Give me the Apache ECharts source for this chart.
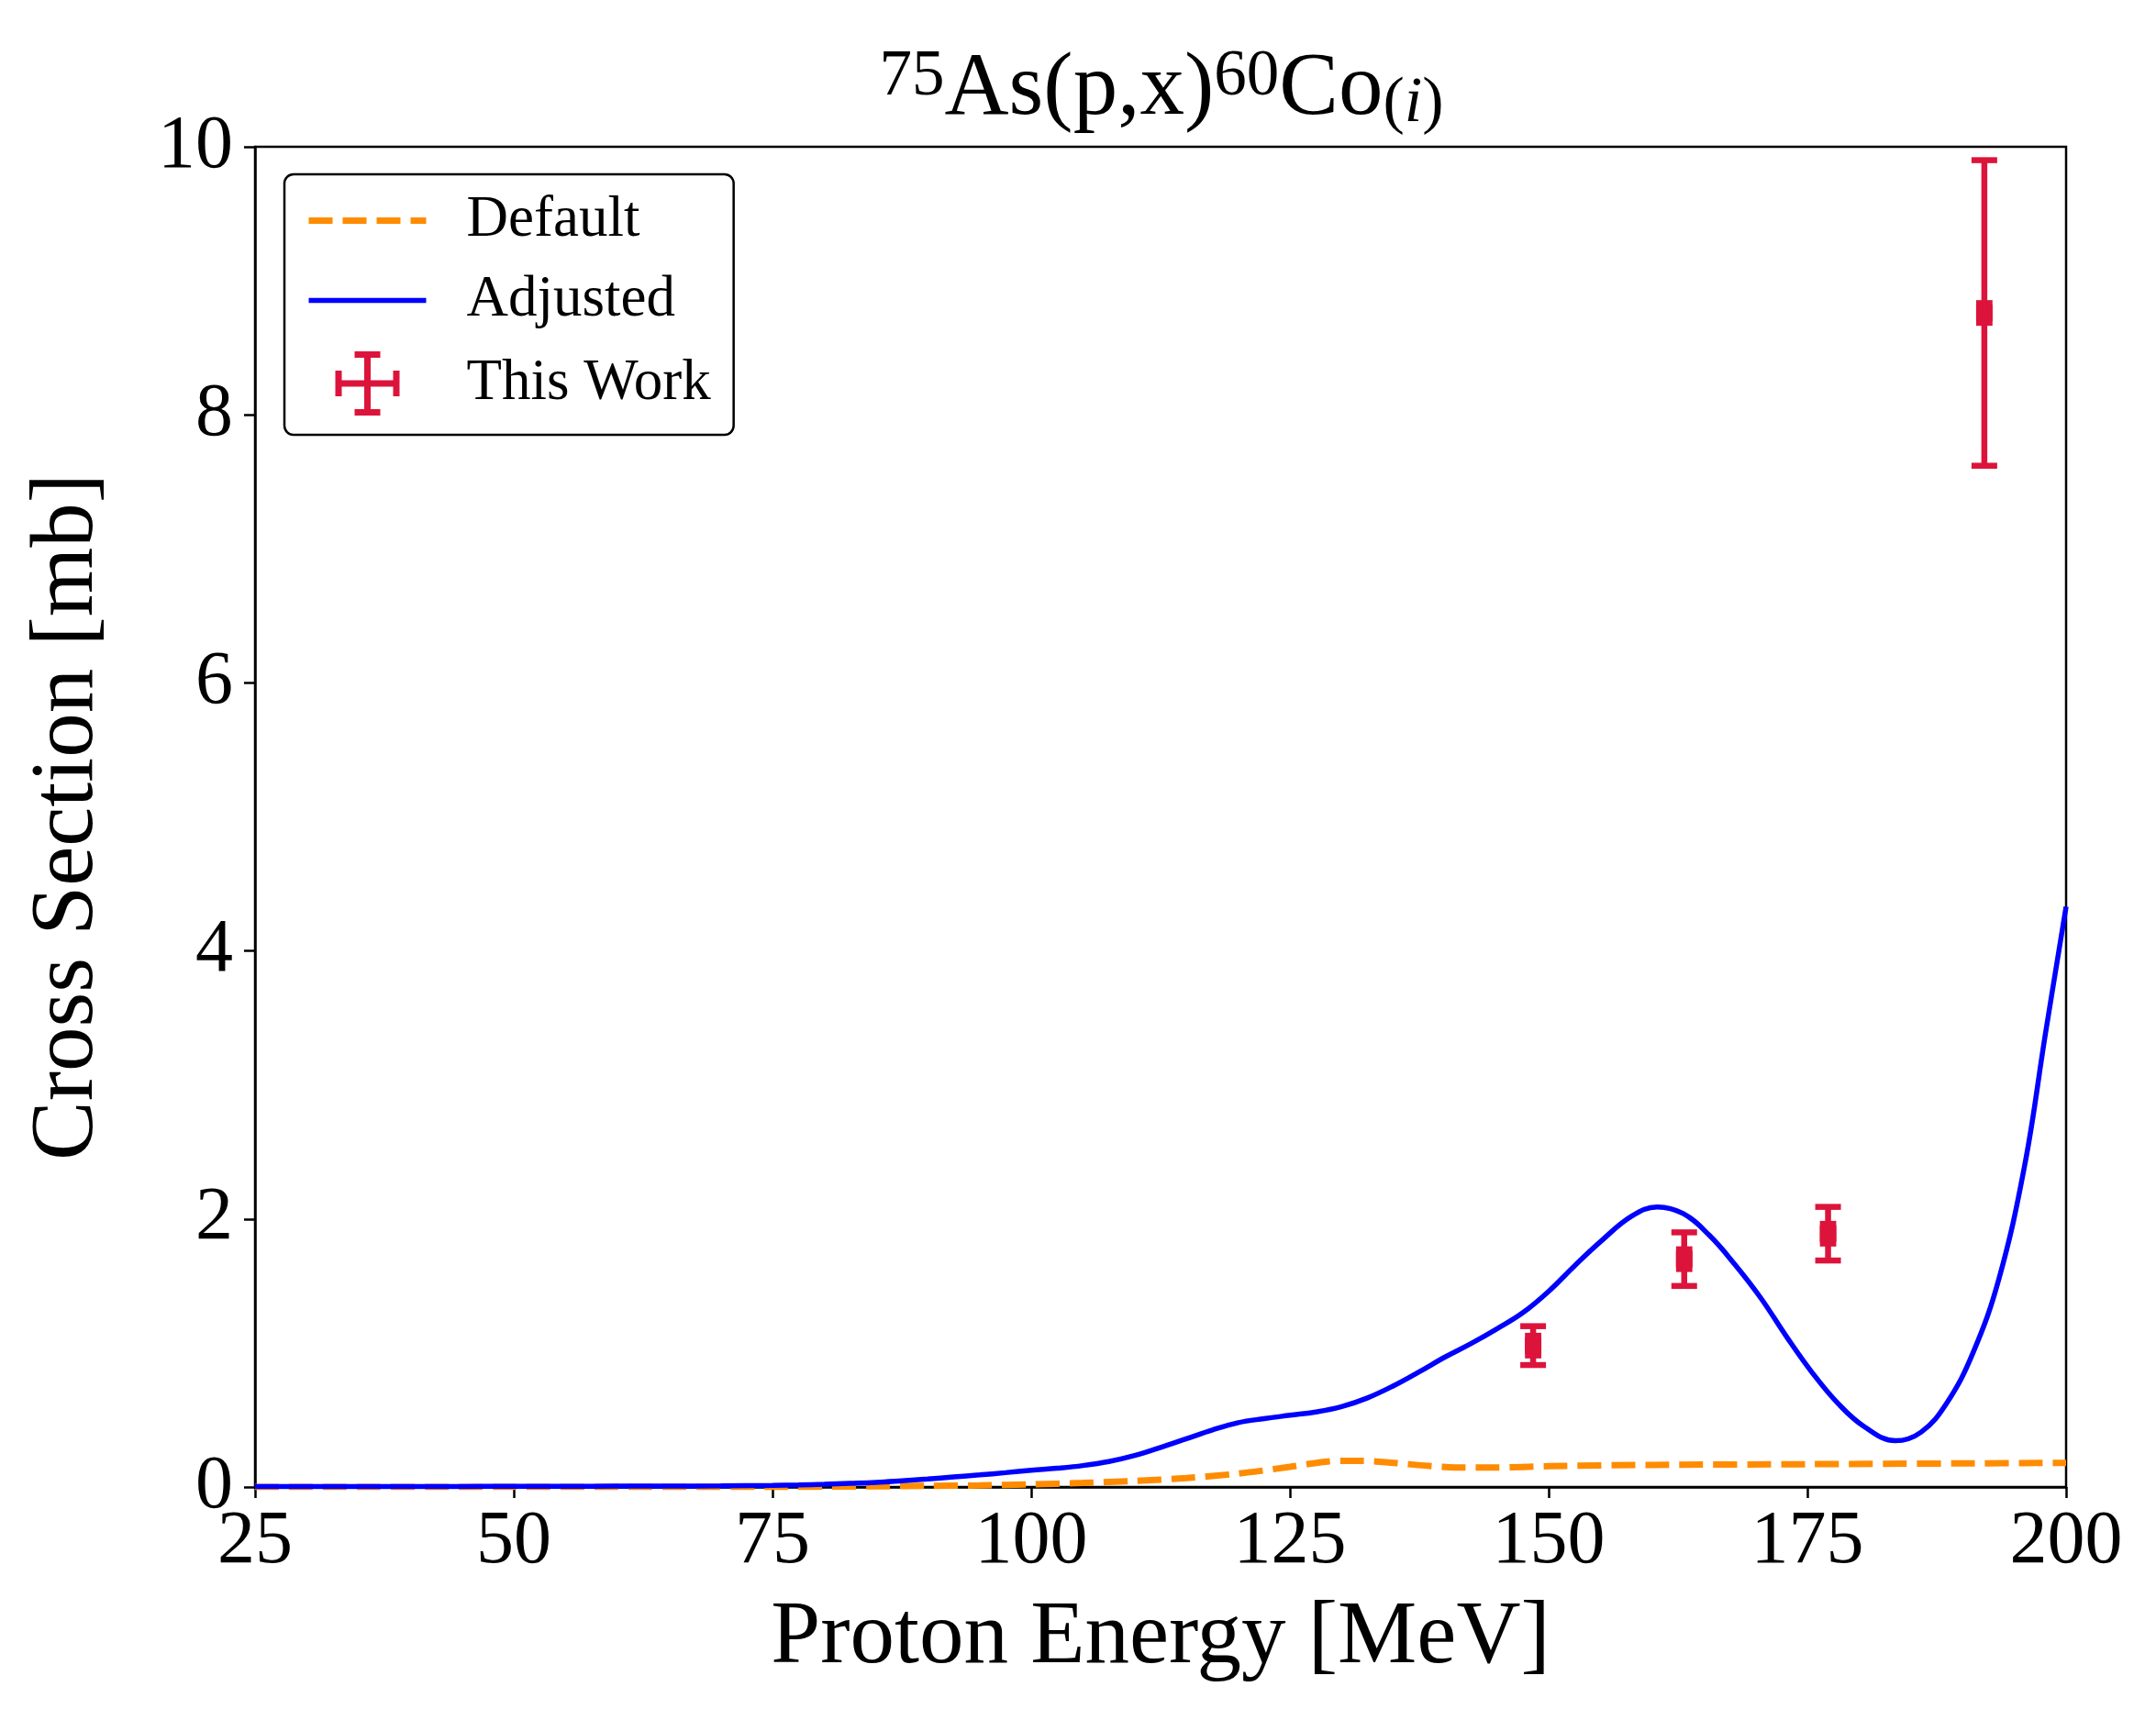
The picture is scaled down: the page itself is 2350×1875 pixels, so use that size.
<!DOCTYPE html>
<html>
<head>
<meta charset="utf-8">
<title>75As(p,x)60Co cross section</title>
<script src="https://cdn.jsdelivr.net/npm/echarts@6/dist/echarts.min.js"></script>
<style>
  html, body { margin: 0; padding: 0; background: #ffffff; }
  #chart { width: 2350px; height: 1875px; }
</style>
</head>
<body>
<div id="chart"></div>
<script>
// Default (orange dashed) model curve
const defaultEnergy = [25, 50, 75, 80, 85, 90, 95, 100, 105, 110, 115, 120, 125, 128, 130, 132, 135, 138, 141, 145, 150, 160, 175, 200];
const defaultXS     = [0, 0, 0, 0.002, 0.005, 0.008, 0.012, 0.02, 0.03, 0.045, 0.067, 0.1, 0.15, 0.185, 0.195, 0.195, 0.18, 0.16, 0.146, 0.145, 0.155, 0.165, 0.17, 0.18];

// Adjusted (blue) model curve
const adjustedEnergy = [25, 30, 35, 40, 45, 50, 55, 60, 65, 70, 75, 77.5, 80, 82.5, 85, 87.5, 90, 92.5, 95, 97.5, 100, 102.5, 105, 107.5, 110, 112.5, 115, 117.5, 120, 122.5, 125, 127.5, 130, 132.5, 135, 137.5, 140, 142.5, 145, 147.5, 150, 152.5, 155, 158, 160.5, 163, 165.5, 168, 170.5, 173, 175.5, 178, 180.5, 183.5, 186, 188.5, 191, 193.5, 196, 198, 200];
const adjustedXS     = [0.003, 0.003, 0.003, 0.004, 0.004, 0.005, 0.005, 0.006, 0.007, 0.008, 0.012, 0.015, 0.02, 0.027, 0.035, 0.047, 0.06, 0.075, 0.09, 0.107, 0.125, 0.14, 0.16, 0.19, 0.235, 0.295, 0.36, 0.425, 0.48, 0.51, 0.535, 0.56, 0.6, 0.665, 0.755, 0.86, 0.97, 1.07, 1.18, 1.3, 1.46, 1.65, 1.83, 2.02, 2.09, 2.04, 1.88, 1.66, 1.41, 1.12, 0.85, 0.62, 0.45, 0.345, 0.41, 0.63, 1.0, 1.55, 2.4, 3.38, 4.33];

// This Work measurements
const expEnergy = [148.5, 163.1, 177.0, 192.1];
const expXS     = [1.055, 1.70, 1.89, 8.76];
const expXErr   = [0.5, 0.5, 0.5, 0.5];
const expYErr   = [0.145, 0.20, 0.20, 1.14];

// axis ticks
const xTicks = { min: 25, max: 200, step: 25 };
const yTicks = { min: 0, max: 10, step: 2 };

const FONT = "'Liberation Serif', 'Times New Roman', serif";
const ORANGE = "#FF8C00", BLUE = "#0000FF", CRIMSON = "#DC143C";
const chart = echarts.init(document.getElementById("chart"), null, { renderer: "canvas" });

const pairs = (xs, ys) => xs.map((x, i) => [x, ys[i]]);

// draws one point with x/y error bars and caps
function renderErrorBar(params, api) {
  const x = api.value(0), y = api.value(1), xe = api.value(2), ye = api.value(3);
  const c = api.coord([x, y]);
  const top = api.coord([x, y + ye])[1];
  const bot = api.coord([x, y - ye])[1];
  const left = api.coord([x - xe, y])[0];
  const right = api.coord([x + xe, y])[0];
  const color = api.visual("color");
  const lw = 6.5, cap = 28;
  const rects = [
    [c[0] - lw / 2, top, lw, bot - top],
    [c[0] - cap / 2, top - lw / 2, cap, lw],
    [c[0] - cap / 2, bot - lw / 2, cap, lw],
    [left, c[1] - lw / 2, right - left, lw],
    [left - lw / 2, c[1] - cap / 2, lw, cap],
    [right - lw / 2, c[1] - cap / 2, lw, cap],
    [c[0] - 9, c[1] - 9, 18, 18]
  ];
  return {
    type: "group",
    children: rects.map(r => ({
      type: "rect",
      shape: { x: r[0], y: r[1], width: r[2], height: r[3] },
      style: { fill: color }
    }))
  };
}

const errIcon = "path://M31.5,0h7v70h-7z M21,0h28v7h-28z M21,63h28v7h-28z M0,31.5h70v7h-70z M0,21h7v28h-7z M63,21h7v28h-7z";
const hiddenSymbol = { color: "rgba(0,0,0,0)", borderWidth: 0, opacity: 0 };

chart.setOption({
  animation: false,
  backgroundColor: "#ffffff",
  title: {
    text: "{sup|75}{m|As(p,x)}{sup|60}{m|Co}{sub|(}{subi|i}{sub|)}",
    left: 1266,
    textAlign: "center",
    top: 49,
    padding: 0,
    textStyle: {
      fontFamily: FONT, fontSize: 97, fontWeight: "normal", color: "#000",
      rich: {
        m:    { fontFamily: FONT, fontSize: 97, lineHeight: 100, color: "#000" },
        sup:  { fontFamily: FONT, fontSize: 71, lineHeight: 48, verticalAlign: "top", color: "#000" },
        sub:  { fontFamily: FONT, fontSize: 70, lineHeight: 52, verticalAlign: "bottom", color: "#000" },
        subi: { fontFamily: FONT, fontSize: 70, lineHeight: 52, verticalAlign: "bottom", fontStyle: "italic", color: "#000" }
      }
    }
  },
  legend: {
    orient: "vertical",
    left: 310,
    top: 190,
    padding: [19, 25, 21, 23],
    itemGap: 24,
    itemWidth: 128,
    itemHeight: 70,
    selectedMode: false,
    backgroundColor: "#ffffff",
    borderColor: "#000000",
    borderWidth: 2.5,
    borderRadius: 10,
    textStyle: { fontFamily: FONT, fontSize: 63, color: "#000", padding: [0, 0, 0, 39] },
    data: [
      { name: "Default", itemStyle: hiddenSymbol, lineStyle: { color: ORANGE, width: 7, type: [26, 11] } },
      { name: "Adjusted", itemStyle: hiddenSymbol, lineStyle: { color: BLUE, width: 5.5, type: "solid" } },
      { name: "This Work", icon: errIcon }
    ]
  },
  grid: {
    left: 278, right: 98, top: 160, bottom: 254,
    show: true, borderColor: "#000", borderWidth: 2.5, backgroundColor: "transparent"
  },
  xAxis: {
    type: "value",
    min: xTicks.min, max: xTicks.max, interval: xTicks.step,
    name: "Proton Energy [MeV]",
    nameLocation: "middle",
    nameGap: 117,
    nameTextStyle: { fontFamily: FONT, fontSize: 97, color: "#000" },
    axisLine: { show: true, lineStyle: { color: "#000", width: 2.5 } },
    axisTick: { show: true, inside: false, length: 12, lineStyle: { color: "#000", width: 2.5 } },
    axisLabel: { fontFamily: FONT, fontSize: 82, color: "#000", margin: 19 },
    splitLine: { show: false }
  },
  yAxis: {
    type: "value",
    min: yTicks.min, max: yTicks.max, interval: yTicks.step,
    name: "Cross Section [mb]",
    nameLocation: "middle",
    nameGap: 155,
    nameTextStyle: { fontFamily: FONT, fontSize: 97, color: "#000" },
    axisLine: { show: true, lineStyle: { color: "#000", width: 2.5 } },
    axisTick: { show: true, inside: false, length: 12, lineStyle: { color: "#000", width: 2.5 } },
    axisLabel: { fontFamily: FONT, fontSize: 82, color: "#000", margin: 24 },
    splitLine: { show: false }
  },
  series: [
    {
      name: "Default",
      type: "line",
      data: pairs(defaultEnergy, defaultXS),
      smooth: 0.3,
      symbol: "none",
      color: ORANGE,
      lineStyle: { color: ORANGE, width: 7, type: [26, 11] },
      z: 2
    },
    {
      name: "Adjusted",
      type: "line",
      data: pairs(adjustedEnergy, adjustedXS),
      smooth: 0.4,
      symbol: "none",
      color: BLUE,
      lineStyle: { color: BLUE, width: 5.5 },
      z: 3
    },
    {
      name: "This Work",
      type: "custom",
      renderItem: renderErrorBar,
      itemStyle: { color: CRIMSON },
      color: CRIMSON,
      encode: { x: 0, y: 1 },
      data: expEnergy.map((e, i) => [e, expXS[i], expXErr[i], expYErr[i]]),
      z: 4
    }
  ]
});
</script>
</body>
</html>
